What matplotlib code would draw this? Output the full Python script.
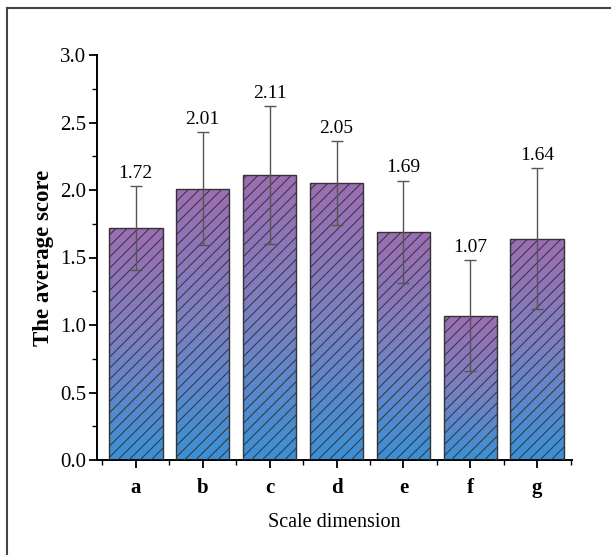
import matplotlib
matplotlib.use("Agg")
import matplotlib.pyplot as plt
import numpy as np
from matplotlib.colors import LinearSegmentedColormap
from matplotlib.ticker import MultipleLocator, FixedLocator, FormatStrFormatter
from matplotlib.lines import Line2D

categories = ["a", "b", "c", "d", "e", "f", "g"]
values = [1.72, 2.01, 2.11, 2.05, 1.69, 1.07, 1.64]
errors = [0.31, 0.42, 0.51, 0.31, 0.38, 0.41, 0.52]
value_labels = ["1.72", "2.01", "2.11", "2.05", "1.69", "1.07", "1.64"]

plt.rcParams['font.family'] = ['Liberation Serif', 'DejaVu Serif']
plt.rcParams['hatch.linewidth'] = 0.7
plt.rcParams['hatch.color'] = '#222233'

fig = plt.figure(figsize=(6.11, 5.55), dpi=100)
ax = fig.add_axes([97/611, 1-460/555, (572-97)/611, (460-55)/555])

cmap = LinearSegmentedColormap.from_list("g", ["#3a90d6", "#7a80c2", "#9d6db2"])
grad = np.linspace(0, 1, 256).reshape(-1, 1)

x = np.arange(len(categories))
width = 0.8
bars = ax.bar(x, values, width=width, facecolor='none', edgecolor='#333333',
              linewidth=1.0, hatch='///', zorder=3)
for b in bars:
    x0, y0 = b.get_x(), b.get_y()
    w, h = b.get_width(), b.get_height()
    im = ax.imshow(grad, extent=[x0, x0 + w, y0, y0 + h], origin='lower',
                   aspect='auto', cmap=cmap, zorder=2, interpolation='bilinear')
    im.set_clip_path(b)

ax.errorbar(x, values, yerr=errors, fmt='none', ecolor='#555555',
            elinewidth=1.0, capsize=4, capthick=1.0, zorder=4)

for xi, v, e, lab in zip(x, values, errors, value_labels):
    ax.annotate(lab, (xi, v + e), xytext=(0, 3), textcoords='offset points',
                ha='center', va='bottom', fontsize=14)

ax.set_xlim(-0.58, 6.52)
ax.set_ylim(0, 3.0)
ax.set_xticks(x)
ax.set_xticklabels(categories, fontsize=15, fontweight='bold')
ax.xaxis.set_minor_locator(FixedLocator(np.arange(-0.5, 7, 1.0)))
ax.yaxis.set_major_locator(MultipleLocator(0.5))
ax.yaxis.set_minor_locator(MultipleLocator(0.25))
ax.yaxis.set_major_formatter(FormatStrFormatter('%.1f'))
ax.tick_params(axis='both', which='major', direction='out', length=6, width=1.3,
               labelsize=15)
ax.tick_params(axis='x', which='major', pad=7)
ax.tick_params(axis='y', which='major', pad=2)
ax.tick_params(axis='both', which='minor', direction='out', length=3.5, width=1.0)

for s in ['top', 'right']:
    ax.spines[s].set_visible(False)
for s in ['left', 'bottom']:
    ax.spines[s].set_linewidth(1.4)

ax.set_ylabel("The average score", fontsize=16.5, fontweight='bold', labelpad=4)
ax.set_xlabel("Scale dimension", fontsize=14.5, labelpad=11)

# figure border (top and left edges visible)
fig.add_artist(Line2D([7/611, 1.0], [1-8/555, 1-8/555], transform=fig.transFigure,
                      color='#444444', linewidth=1.5))
fig.add_artist(Line2D([7/611, 7/611], [0, 1-8/555], transform=fig.transFigure,
                      color='#444444', linewidth=1.5))

fig.savefig("out.png", dpi=100)
